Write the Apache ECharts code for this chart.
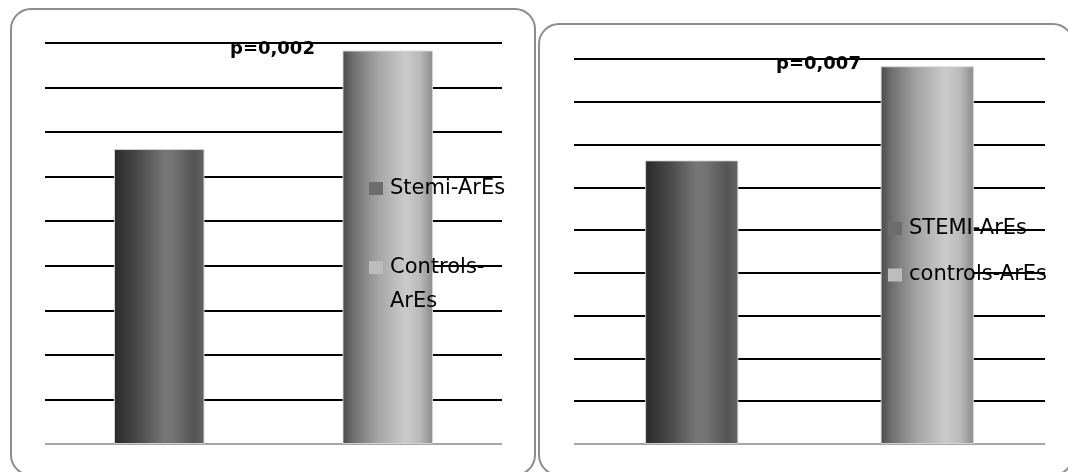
<!DOCTYPE html>
<html>
<head>
<meta charset="utf-8">
<script src="https://cdn.jsdelivr.net/npm/echarts@6/dist/echarts.min.js"></script>
<style>
  html, body { margin: 0; padding: 0; background: #fff; }
  #chart { width: 1068px; height: 472px; }
</style>
</head>
<body>
<div id="chart"></div>
<script>
// Left panel: Stemi vs controls
const catsA = ['Stemi-ArEs', 'Controls-ArEs'];
const valuesA = [6.62, 8.83];
const pLabelA = 'p=0,002';

// Right panel: STEMI vs controls
const catsB = ['STEMI-ArEs', 'controls-ArEs'];
const valuesB = [6.63, 8.83];
const pLabelB = 'p=0,007';

// Shared value scale (unlabelled gridlines)
const yMin = 0;
const yMax = 9;
const yStep = 1;

const chart = echarts.init(document.getElementById('chart'), null, { renderer: 'canvas' });

const FONT = 'DejaVu Sans';

// Cylinder-like horizontal shading for the two bar tones
const darkFill = {
  type: 'linear', x: 0, y: 0, x2: 1, y2: 0,
  colorStops: [
    { offset: 0, color: '#2a2a2a' },
    { offset: 0.25, color: '#474747' },
    { offset: 0.55, color: '#767676' },
    { offset: 0.65, color: '#747474' },
    { offset: 0.88, color: '#545454' },
    { offset: 1, color: '#646464' }
  ]
};
const lightFill = {
  type: 'linear', x: 0, y: 0, x2: 1, y2: 0,
  colorStops: [
    { offset: 0, color: '#4a4a4a' },
    { offset: 0.12, color: '#707070' },
    { offset: 0.4, color: '#a6a6a6' },
    { offset: 0.7, color: '#cbcbcb' },
    { offset: 0.86, color: '#b9b9b9' },
    { offset: 1, color: '#8a8a8a' }
  ]
};

// bottom line grey, the rest black
const gridColors = [];
for (let v = yMin; v <= yMax; v += yStep) gridColors.push(v === yMin ? '#a6a6a6' : '#000000');

function xAx(cats, gridIndex) {
  return {
    type: 'category', gridIndex: gridIndex, data: cats,
    axisLine: { show: false }, axisTick: { show: false }, axisLabel: { show: false }
  };
}
function yAx(gridIndex) {
  return {
    type: 'value', gridIndex: gridIndex, min: yMin, max: yMax, interval: yStep,
    axisLine: { show: false }, axisTick: { show: false }, axisLabel: { show: false },
    splitLine: { show: true, lineStyle: { color: gridColors, width: 2 } }
  };
}
function barSeries(name, value, index, cats, fill, axisIndex) {
  const data = cats.map((c, i) => (i === index ? value : null));
  return {
    type: 'bar', name: name, xAxisIndex: axisIndex, yAxisIndex: axisIndex,
    data: data, barWidth: '39.6%', barGap: '-100%',
    itemStyle: { color: fill, borderColor: 'rgba(215,215,215,0.9)', borderWidth: 1 },
    emphasis: { disabled: true }, z: 3
  };
}
function legendFor(cats, left, top, gap, wrapSecond) {
  const second = { name: cats[1], itemStyle: { color: '#bdbdbd', borderWidth: 0 } };
  const legend = {
    orient: 'vertical', left: left, top: top, padding: 0,
    itemGap: gap, itemWidth: 14, itemHeight: 13, icon: 'rect', selectedMode: false,
    data: [{ name: cats[0], itemStyle: { color: '#6d6d6d', borderWidth: 0 } }, second],
    textStyle: { fontFamily: FONT, fontSize: 21, color: '#000', lineHeight: 25, padding: [0, 0, 0, 2] }
  };
  if (wrapSecond) {
    // long entry wraps after the hyphen; its first line sits level with the swatch
    second.textStyle = { width: 100, overflow: 'breakAll', lineHeight: 34 };
    legend.formatter = name => (name === cats[1] ? '\n' + name : name);
  }
  return legend;
}

const option = {
  animation: false,
  backgroundColor: '#ffffff',
  graphic: [
    { type: 'rect', shape: { x: 11, y: 9, width: 524, height: 466, r: 20 },
      style: { fill: 'none', stroke: '#8c8c8c', lineWidth: 2 }, silent: true },
    { type: 'rect', shape: { x: 539, y: 24, width: 534, height: 451, r: 20 },
      style: { fill: 'none', stroke: '#8c8c8c', lineWidth: 2 }, silent: true }
  ],
  title: [
    { text: pLabelA, left: 230, top: 40, padding: 0,
      textStyle: { fontFamily: FONT, fontWeight: 'bold', fontSize: 18, lineHeight: 18, color: '#000' } },
    { text: pLabelB, left: 776, top: 55, padding: 0,
      textStyle: { fontFamily: FONT, fontWeight: 'bold', fontSize: 18, lineHeight: 18, color: '#000' } }
  ],
  grid: [
    { left: 45, top: 43, width: 457, height: 401 },
    { left: 574, top: 59, width: 471, height: 385 }
  ],
  xAxis: [xAx(catsA, 0), xAx(catsB, 1)],
  yAxis: [yAx(0), yAx(1)],
  legend: [
    legendFor(catsA, 369, 176, 15.5, true),
    legendFor(catsB, 888, 216, 21.5, false)
  ],
  series: [
    barSeries(catsA[0], valuesA[0], 0, catsA, darkFill, 0),
    barSeries(catsA[1], valuesA[1], 1, catsA, lightFill, 0),
    barSeries(catsB[0], valuesB[0], 0, catsB, darkFill, 1),
    barSeries(catsB[1], valuesB[1], 1, catsB, lightFill, 1)
  ]
};

chart.setOption(option);
</script>
</body>
</html>
